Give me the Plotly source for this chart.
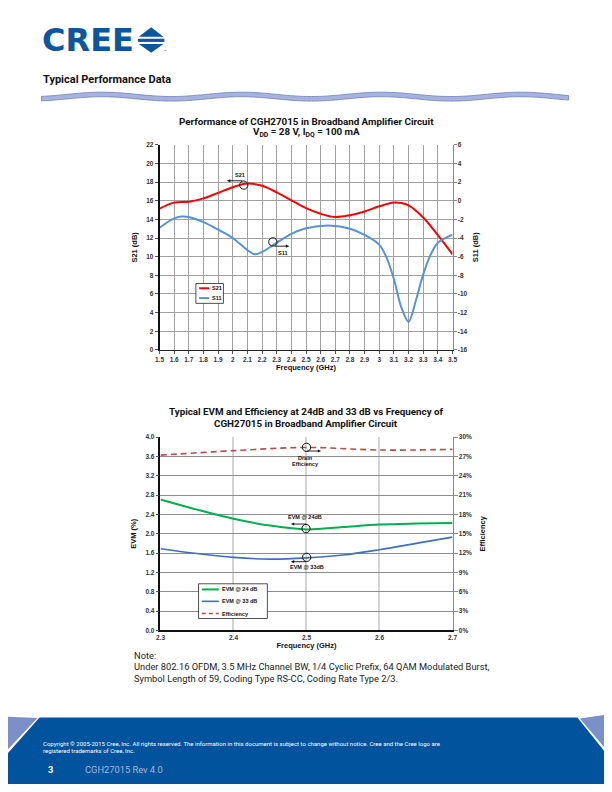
import numpy as np
import plotly.graph_objects as go

# ---------------- data ----------------
s21_freq = [1.5, 1.6, 1.7, 1.8, 1.9, 2.0, 2.1, 2.2, 2.3, 2.4, 2.5, 2.6, 2.7, 2.8, 2.9, 3.0, 3.1, 3.15, 3.2, 3.3, 3.4, 3.5]
s21_db = [15.15, 15.8, 15.9, 16.25, 16.85, 17.45, 17.85, 17.6, 16.9, 16.05, 15.2, 14.6, 14.25, 14.45, 14.85, 15.4, 15.8, 15.75, 15.5, 14.2, 12.3, 10.25]

s11_freq = [1.5, 1.6, 1.65, 1.7, 1.8, 1.9, 2.0, 2.1, 2.15, 2.2, 2.3, 2.4, 2.5, 2.6, 2.65, 2.7, 2.8, 2.9, 3.0, 3.05, 3.1, 3.15, 3.2, 3.25, 3.3, 3.35, 3.4, 3.45, 3.5]
s11_db = [-2.9, -1.9, -1.7, -1.75, -2.3, -3.1, -4.0, -5.3, -5.75, -5.5, -4.5, -3.55, -2.95, -2.7, -2.65, -2.7, -3.0, -3.65, -4.7, -6.1, -8.4, -11.4, -13.0, -10.7, -7.9, -5.8, -4.5, -4.0, -3.65]

evm_freq = [2.3, 2.35, 2.4, 2.45, 2.5, 2.55, 2.6, 2.65, 2.7]
evm24 = [2.71, 2.50, 2.31, 2.17, 2.09, 2.14, 2.19, 2.21, 2.22]
evm33 = [1.69, 1.59, 1.51, 1.475, 1.50, 1.56, 1.67, 1.80, 1.93]

eff_freq = [2.3, 2.4, 2.5, 2.6, 2.7]
eff_pct = [27.2, 27.9, 28.4, 28.0, 28.1]

# tick labels
x1_ticks = [1.5, 1.6, 1.7, 1.8, 1.9, 2.0, 2.1, 2.2, 2.3, 2.4, 2.5, 2.6, 2.7, 2.8, 2.9, 3.0, 3.1, 3.2, 3.3, 3.4, 3.5]
x1_labels = ["1.5", "1.6", "1.7", "1.8", "1.9", "2", "2.1", "2.2", "2.3", "2.4", "2.5", "2.6", "2.7", "2.8", "2.9", "3", "3.1", "3.2", "3.3", "3.4", "3.5"]
y1_ticks = [0, 2, 4, 6, 8, 10, 12, 14, 16, 18, 20, 22]
y2_ticks = [-16, -14, -12, -10, -8, -6, -4, -2, 0, 2, 4, 6]
y2_labels = ["-16", "-14", "-12", "-10", "-8", "-6", "-4", "-2", "0", "2", "4", "6"]
x2_ticks = [2.3, 2.4, 2.5, 2.6, 2.7]
y3_ticks = [0.0, 0.4, 0.8, 1.2, 1.6, 2.0, 2.4, 2.8, 3.2, 3.6, 4.0]
y4_ticks = [0, 3, 6, 9, 12, 15, 18, 21, 24, 27, 30]
y4_labels = ["0%", "3%", "6%", "9%", "12%", "15%", "18%", "21%", "24%", "27%", "30%"]

# ---------------- helpers ----------------
# page has an 8px body margin: the figure is sized to fit inside the window
OFF = 8
W, H = 612 - 2 * OFF, 792 - 2 * OFF
def X(p):
    return (p - OFF) / W
def Y(p):
    return 1 - (p - OFF) / H

TXT = "Roboto"
ARIAL = "Liberation Sans, Arial, sans-serif"
BLUE = "#0a569f"

fig = go.Figure()

# chart 1 traces
fig.add_trace(go.Scatter(x=s21_freq, y=s21_db, mode="lines", name="S21",
                         line=dict(color="#ff0000", width=2, shape="spline", smoothing=1.0),
                         xaxis="x", yaxis="y", showlegend=False))
fig.add_trace(go.Scatter(x=s11_freq, y=s11_db, mode="lines", name="S11",
                         line=dict(color="#5592dc", width=2, shape="spline", smoothing=0.9),
                         xaxis="x", yaxis="y2", showlegend=False))
# chart 2 traces
fig.add_trace(go.Scatter(x=evm_freq, y=evm24, mode="lines", name="EVM @ 24 dB",
                         line=dict(color="#00b050", width=2, shape="spline"),
                         xaxis="x2", yaxis="y3", showlegend=False))
fig.add_trace(go.Scatter(x=evm_freq, y=evm33, mode="lines", name="EVM @ 33 dB",
                         line=dict(color="#3f6fbf", width=1.6, shape="spline"),
                         xaxis="x2", yaxis="y3", showlegend=False))
fig.add_trace(go.Scatter(x=eff_freq, y=eff_pct, mode="lines", name="Efficiency",
                         line=dict(color="#b94a48", width=1.6, dash="6px,4px", shape="spline"),
                         xaxis="x2", yaxis="y4", showlegend=False))

tickfont = dict(family=ARIAL, size=6.5, color="#333", weight="bold")
titlefont = dict(family=ARIAL, size=7.5, color="#111", weight="bold")

d1x = [X(157), X(455)]
d1y = [Y(349), Y(142)]
d2x = [X(158), X(455)]
d2y = [Y(632), Y(437)]

fig.update_layout(
    width=W, height=H, margin=dict(l=0, r=0, t=0, b=0),
    paper_bgcolor="white", plot_bgcolor="white",
    showlegend=False,
    xaxis=dict(domain=d1x, range=[1.5, 3.5], tickvals=x1_ticks, ticktext=x1_labels,
               showgrid=True, gridcolor="#a0a0a0", gridwidth=1, zeroline=False,
               showline=True, linecolor="#222", linewidth=1, ticks="outside", ticklen=3,
               tickcolor="#555", tickfont=tickfont, anchor="y",
               title=dict(text="Frequency (GHz)", font=titlefont, standoff=2)),
    yaxis=dict(domain=d1y, range=[0, 22], tickvals=y1_ticks,
               showgrid=True, gridcolor="#a0a0a0", gridwidth=1, zeroline=False,
               showline=True, linecolor="#111", linewidth=1.5, ticks="outside", ticklen=3,
               tickcolor="#555", tickfont=tickfont, anchor="x",
               title=dict(text="S21 (dB)", font=titlefont, standoff=8)),
    yaxis2=dict(range=[-16, 6], tickvals=y2_ticks, ticktext=y2_labels, overlaying="y", side="right",
                showgrid=False, zeroline=False, showline=True, linecolor="#888", linewidth=1,
                ticks="outside", ticklen=3, tickcolor="#888", tickfont=tickfont, anchor="x",
                title=dict(text="S11 (dB)", font=titlefont, standoff=6)),
    xaxis2=dict(domain=d2x, range=[2.3, 2.7], tickvals=x2_ticks, tickformat=".1f",
                showgrid=True, gridcolor="#d4d4d4", gridwidth=2, zeroline=False,
                showline=True, linecolor="#111", linewidth=1.5, ticks="", tickfont=tickfont,
                anchor="y3",
                title=dict(text="Frequency (GHz)", font=titlefont, standoff=2)),
    yaxis3=dict(domain=d2y, range=[0, 4.0], tickvals=y3_ticks, tickformat=".1f",
                showgrid=True, gridcolor="#8c8c8c", gridwidth=1, zeroline=False,
                showline=True, linecolor="#111", linewidth=1.5, ticks="outside", ticklen=3,
                tickcolor="#555", tickfont=tickfont, anchor="x2",
                title=dict(text="EVM (%)", font=titlefont, standoff=8)),
    yaxis4=dict(range=[0, 30], tickvals=y4_ticks, ticktext=y4_labels, overlaying="y3", side="right",
                showgrid=False, zeroline=False, showline=True, linecolor="#888", linewidth=1,
                ticks="outside", ticklen=4, tickcolor="#888", tickfont=tickfont, anchor="x2",
                title=dict(text="Efficiency", font=titlefont, standoff=8)),
)

shapes = []
annos = []

def text(x, y, s, size, color="#111", family=TXT, weight="normal", xanchor="left", yanchor="middle", align="left"):
    annos.append(dict(x=X(x), y=Y(y), xref="paper", yref="paper", text=s, showarrow=False,
                      xanchor=xanchor, yanchor=yanchor, align=align,
                      font=dict(family=family, size=size, color=color, weight=weight)))

def circle(cx, cy, r=4.2):
    shapes.append(dict(type="circle", xref="paper", yref="paper",
                       x0=X(cx - r), x1=X(cx + r), y0=Y(cy + r), y1=Y(cy - r),
                       line=dict(color="#111", width=1)))

def poly(points, fill, line_color=None, lw=0):
    path = "M " + " L ".join(f"{X(a):.5f},{Y(b):.5f}" for a, b in points) + " Z"
    shapes.append(dict(type="path", xref="paper", yref="paper", path=path, fillcolor=fill,
                       line=dict(color=line_color or fill, width=lw), layer="above"))

def hline(x0, x1, y, color, width, dash="solid"):
    shapes.append(dict(type="line", xref="paper", yref="paper", x0=X(x0), x1=X(x1),
                       y0=Y(y), y1=Y(y), line=dict(color=color, width=width, dash=dash)))

def arrow(x_tail, x_head, y):
    d = 1 if x_head > x_tail else -1
    hline(x_tail, x_head - d * 2.5, y, "#111", 0.9)
    poly([(x_head, y), (x_head - d * 3.5, y - 1.6), (x_head - d * 3.5, y + 1.6)], "#111")

def rect(x0, y0, x1, y1, fill, line_color=None, lw=0):
    shapes.append(dict(type="rect", xref="paper", yref="paper", x0=X(x0), x1=X(x1),
                       y0=Y(y1), y1=Y(y0), fillcolor=fill,
                       line=dict(color=line_color or fill, width=lw), layer="above"))

# ---------------- header ----------------
text(35, 36.5, "CREE", 32, color=BLUE, family="DejaVu Sans", weight="bold")
poly([(136, 33), (148.5, 23.5), (161, 33)], BLUE)
rect(135, 35, 162, 38.2, BLUE)
poly([(136, 40.2), (161, 40.2), (148.5, 49)], BLUE)
text(160, 48, "™", 4, color=BLUE)
text(36, 76, "Typical Performance Data", 11, color="#111", weight="bold")

# wavy band
xs = np.linspace(37, 573, 200)
center = 93.4 - 2.2 * np.sin(2 * np.pi * (xs - 63) / 142)
upper = list(zip(xs, center - 2.3))
lower = list(zip(xs[::-1], (center + 2.3)[::-1]))
poly(upper + lower, "#a7b3de", "#6f80bf", 0.8)

# ---------------- chart 1 titles & annotations ----------------
text(306, 118, "Performance of CGH27015 in Broadband Amplifier Circuit", 9.8, weight="bold", xanchor="center")
text(306, 129.5, "V<sub>DD</sub> = 28 V, I<sub>DQ</sub> = 100 mA", 9.8, weight="bold", xanchor="center")

circle(242.7, 182.7)
arrow(241, 225.5, 178.3)
text(238.5, 172.2, "S21", 5.5, family=ARIAL, weight="bold", xanchor="center")
circle(272.3, 240)
arrow(274, 289, 244.3)
text(282.5, 251, "S11", 5.5, family=ARIAL, weight="bold", xanchor="center")

# legend 1
rect(194, 282, 222, 302, "white", "#222", 0.8)
hline(197.3, 207.5, 286.8, "#ff0000", 2)
text(208.3, 286.8, "S21", 5.5, family=ARIAL, weight="bold")
hline(197.3, 207.5, 296.7, "#5592dc", 2)
text(208.3, 296.7, "S11", 5.5, family=ARIAL, weight="bold")

# ---------------- chart 2 titles & annotations ----------------
text(306, 411, "Typical EVM and Efficiency at 24dB and 33 dB vs Frequency of", 9.8, weight="bold", xanchor="center")
text(306, 423.5, "CGH27015 in Broadband Amplifier Circuit", 9.8, weight="bold", xanchor="center")

circle(306.5, 447.3)
arrow(307, 321.5, 451)
text(305, 458.5, "Drain", 5.5, family=ARIAL, weight="bold", xanchor="center")
text(305, 464.5, "Efficiency", 5.5, family=ARIAL, weight="bold", xanchor="center")

text(305, 517.7, "EVM @ 24dB", 5.5, family=ARIAL, weight="bold", xanchor="center")
circle(306, 529.3)
arrow(306, 290.5, 524.7)

circle(306.7, 558.3)
arrow(306, 290.5, 562.7)
text(306.7, 568.5, "EVM @ 33dB", 5.5, family=ARIAL, weight="bold", xanchor="center")

# legend 2
rect(196.7, 585, 266.7, 620, "white", "#222", 0.8)
hline(200, 217.3, 590.7, "#00b050", 2)
text(218.7, 590.7, "EVM @ 24 dB", 5.5, family=ARIAL, weight="bold")
hline(200, 217.3, 602.7, "#3f6fbf", 1.6)
text(218.7, 602.7, "EVM @ 33 dB", 5.5, family=ARIAL, weight="bold")
hline(200, 217.3, 615, "#b94a48", 1.6, dash="4px,3px")
text(218.7, 615, "Efficiency", 5.5, family=ARIAL, weight="bold")

# ---------------- note ----------------
text(129.5, 657, "Note:", 9.3, color="#222")
text(129.5, 668.5, "Under 802.16 OFDM, 3.5 MHz Channel BW, 1/4 Cyclic Prefix, 64 QAM Modulated Burst,", 9.3, color="#222")
text(129.5, 680.5, "Symbol Length of 59, Coding Type RS-CC, Coding Rate Type 2/3.", 9.3, color="#222")

# ---------------- footer ----------------
poly([(35, 720), (582, 720), (612, 757), (612, 800), (0, 800), (0, 759)], "#00539c")
poly([(0, 719), (33, 720.5), (0, 755)], "#7b8fc8")
poly([(584.5, 721), (612, 717), (612, 753)], "#7b8fc8")
text(36, 746, "Copyright © 2005-2015 Cree, Inc. All rights reserved. The information in this document is subject to change without notice. Cree and the Cree logo are", 6, color="white")
text(36, 753.5, "registered trademarks of Cree, Inc.", 6, color="white")
text(42, 772, "3", 9.3, color="white", weight="bold")
text(79, 772, "CGH27015 Rev 4.0", 9.3, color="#a9b6dc")

fig.update_layout(shapes=shapes, annotations=annos)
fig.write_html("out.html")
